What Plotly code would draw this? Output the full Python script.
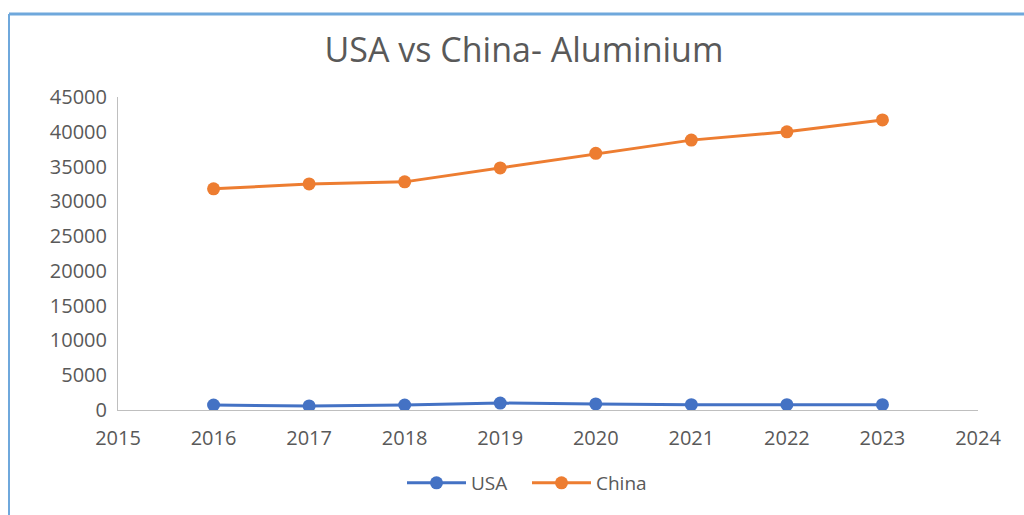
import plotly.graph_objects as go

years = [2016, 2017, 2018, 2019, 2020, 2021, 2022, 2023]
usa = [720, 580, 720, 1000, 880, 760, 760, 760]
china = [31800, 32500, 32800, 34800, 36900, 38800, 40000, 41700]
y_ticks = list(range(0, 45001, 5000))
x_ticks = list(range(2015, 2025))

fig = go.Figure()
fig.add_trace(go.Scatter(x=years, y=usa, name="USA", mode="lines+markers",
                         line=dict(color="#4472C4", width=3),
                         marker=dict(color="#4472C4", size=13)))
fig.add_trace(go.Scatter(x=years, y=china, name="China", mode="lines+markers",
                         line=dict(color="#ED7D31", width=3),
                         marker=dict(color="#ED7D31", size=13)))

L, R, T, B = 118, 46, 97, 105
W, H = 1024, 515
pw, ph = W - L - R, H - T - B

def px(x):
    return (x - L) / pw

def py(y):
    return (H - B - y) / ph

fig.update_layout(
    width=W, height=H,
    margin=dict(l=L, r=R, t=T, b=B),
    paper_bgcolor="white", plot_bgcolor="white",
    font=dict(family="Open Sans, Segoe UI, sans-serif", color="#595959", size=19),
    title=dict(text="USA vs China- Aluminium", x=524 / W, xref="container", xanchor="center",
               y=1 - 50 / H, yanchor="middle", font=dict(size=34, color="#595959")),
    xaxis=dict(range=[2015, 2024], tickvals=x_ticks, ticktext=[str(v) for v in x_ticks],
               showgrid=False, zeroline=False, showline=True, linecolor="#BFBFBF",
               linewidth=1, ticks="", ticklabelstandoff=10,
               tickfont=dict(size=20, color="#595959")),
    yaxis=dict(range=[0, 45000], tickvals=y_ticks, ticktext=[str(v) for v in y_ticks],
               showgrid=False, zeroline=False, showline=True, linecolor="#BFBFBF",
               linewidth=1, ticks="", ticklabelstandoff=6,
               tickfont=dict(size=20, color="#595959")),
    legend=dict(orientation="h", x=px(527), xanchor="center", y=py(483), yanchor="middle",
                font=dict(size=19, color="#595959"), itemwidth=59,
                entrywidth=51, entrywidthmode="pixels"),
    showlegend=True,
    shapes=[
        dict(type="line", xref="paper", yref="paper", x0=px(9), x1=px(1030), y0=py(14), y1=py(14),
             line=dict(color="#6FA8DC", width=3)),
        dict(type="line", xref="paper", yref="paper", x0=px(9), x1=px(9), y0=py(14), y1=py(520),
             line=dict(color="#6FA8DC", width=2)),
    ],
)

fig.write_html("out.html", config={"displayModeBar": False},
               post_script="document.body.style.margin='0px';document.body.style.overflow='hidden';")
